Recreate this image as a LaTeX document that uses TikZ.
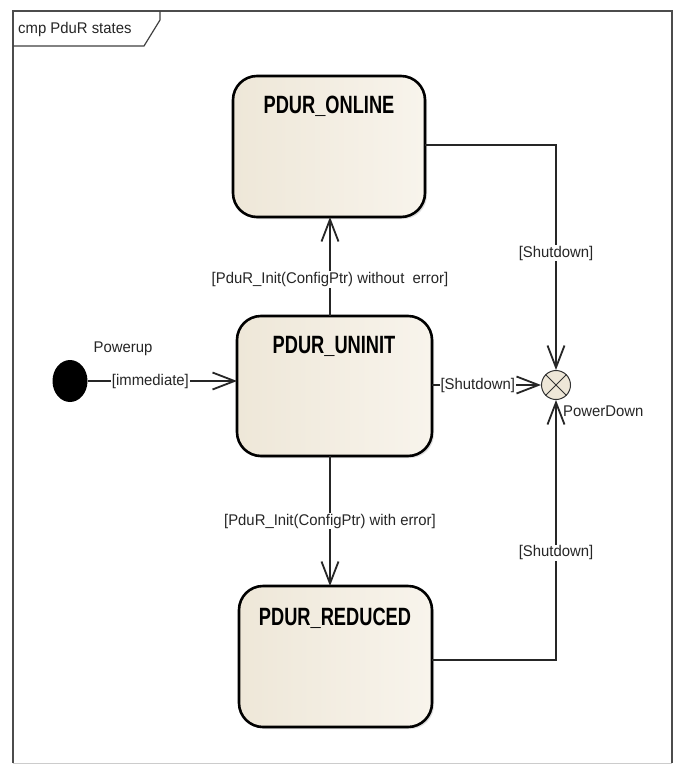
\documentclass[tikz,border=0pt]{standalone}
\usepackage{fontspec}
\setmainfont{Liberation Sans}
\usetikzlibrary{arrows.meta,shadows}
\begin{document}
\begin{tikzpicture}[x=1pt,y=-1pt,
  statebox/.style={draw=black,line width=2.6pt,rounded corners=24pt,
    left color=stateA,right color=stateB,
    drop shadow={shadow xshift=2pt,shadow yshift=-2pt,fill=black!25}},
  statename/.style={font=\bfseries\fontsize{25}{28}\selectfont,anchor=center},
  trans/.style={draw=black!85,line width=1.8pt,-{Straight Barb[length=22pt,width=17pt,line width=1.8pt]}},
  guard/.style={fill=white,inner sep=1pt,font=\fontsize{15.5}{18}\selectfont,text=black!85},
  plain/.style={font=\fontsize{15.5}{18}\selectfont,text=black!85,inner sep=0pt}]
\definecolor{stateA}{HTML}{EEE7D8}
\definecolor{stateB}{HTML}{F8F4EC}
\useasboundingbox (0,0) rectangle (680,769);
\fill[white] (0,0) rectangle (680,769);

% diagram frame and name tab
\draw[black!70,line width=1.6pt] (13,763) -- (13,11) -- (672,11) -- (672,763);
\draw[black!20,line width=1pt] (13,763) -- (672,763);
\draw[black!75,line width=1.2pt] (13,46) -- (144,46) -- (160,20) -- (160,11);
\node[plain,anchor=west] (tab) at (18,29) {\scalebox{0.96}[1]{cmp PduR states}};

% states
\path[statebox] (233,76) rectangle (425,217);
\node[statename] (onlinelbl) at (329,106) {\scalebox{0.73}[1]{PDUR\_ONLINE}};
\path[statebox] (237,316) rectangle (432,456);
\node[statename] (uninitlbl) at (334,346) {\scalebox{0.73}[1]{PDUR\_UNINIT}};
\path[statebox] (239,586) rectangle (432,727);
\node[statename] (reducedlbl) at (335,618) {\scalebox{0.73}[1]{PDUR\_REDUCED}};

% anchor points on the state borders
\coordinate (onlineS) at (330,217);
\coordinate (onlineE) at (425,145);
\coordinate (uninitN) at (330,316);
\coordinate (uninitS) at (330,456);
\coordinate (uninitW) at (237,381);
\coordinate (uninitE) at (432,385);
\coordinate (reducedN) at (330,586);
\coordinate (reducedE) at (432,660);

% initial pseudostate
\node[circle,fill=black,minimum width=35pt,minimum height=35pt,inner sep=0pt,
      yscale=1.2] (init) at (70,381) {};
\node[plain] (powerup) at (123,349) {\scalebox{0.96}[1]{Powerup}};

% final (terminate) pseudostate
\node[circle,draw=black!80,fill=stateA,line width=1pt,minimum size=29pt,inner sep=0pt]
  (pd) at (556,385) {};
\draw[black!80,line width=0.9pt] (pd.north west) -- (pd.south east)
  (pd.north east) -- (pd.south west);
\node[plain,anchor=west] (pdlbl) at (563,411) {\scalebox{0.96}[1]{PowerDown}};

% transitions
\draw[trans] (init.east |- uninitW) -- node[guard,pos=0.42] {\scalebox{0.96}[1]{[immediate]}} (uninitW);
\draw[trans] (uninitN) -- node[guard,pos=0.37] {\scalebox{0.96}[1]{[PduR\_Init(ConfigPtr) without\ \ error]}} (onlineS);
\draw[trans] (uninitS) -- node[guard,pos=0.5] {\scalebox{0.96}[1]{[PduR\_Init(ConfigPtr) with error]}} (reducedN);
\draw[trans] (uninitE) -- node[guard,pos=0.42] {\scalebox{0.96}[1]{[Shutdown]}} (pd.west);
\draw[trans] (onlineE) -| node[guard,pos=0.74] {\scalebox{0.96}[1]{[Shutdown]}} (pd.north);
\draw[trans] (reducedE) -| node[guard,pos=0.706] {\scalebox{0.96}[1]{[Shutdown]}} (pd.south);
\end{tikzpicture}
\end{document}
